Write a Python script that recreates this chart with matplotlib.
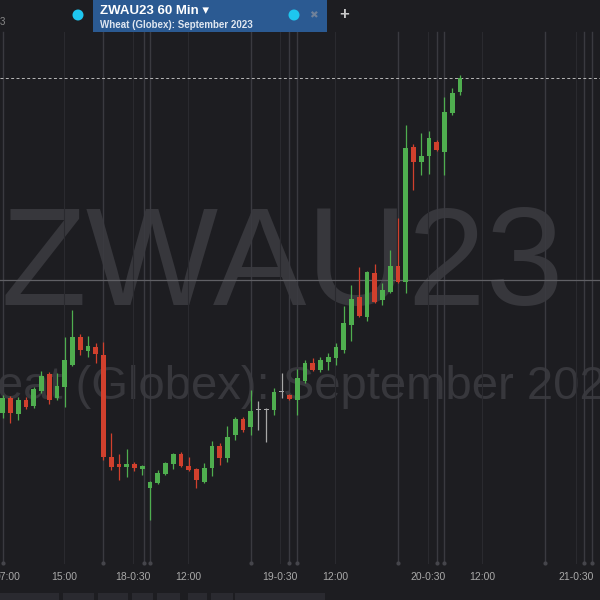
import matplotlib
matplotlib.use("Agg")
import matplotlib.pyplot as plt
import matplotlib.transforms as mtransforms
from matplotlib.patches import Rectangle, Circle

# hourly OHLC (cents/bushel), ZWAU23 60 Min
opens = [672.5, 676.25, 672.25, 675.75, 674.25, 678.0, 682.25, 676.25, 679.0, 684.5,
         691.5, 688.0, 689.0, 687.0, 661.5, 659.75, 659.0, 659.75, 658.5, 653.75,
         655.0, 657.25, 659.75, 662.25, 659.25, 658.5, 655.25, 658.75, 664.25, 661.25,
         667.0, 671.0, 669.0, 673.25, 673.25, 673.25, 677.75, 677.0, 675.75, 680.5,
         685.0, 683.25, 685.25, 686.25, 688.25, 694.5, 701.5, 696.5, 707.5, 700.75,
         702.75, 709.25, 705.25, 739.0, 735.25, 736.75, 740.25, 737.75, 747.5, 752.75]
highs = [677.0, 676.75, 676.5, 676.5, 679.0, 683.0, 682.75, 682.5, 691.5, 698.25,
         692.25, 691.75, 690.0, 690.25, 667.5, 662.25, 663.5, 660.25, 659.5, 655.5,
         658.25, 660.25, 662.5, 662.75, 661.5, 658.75, 660.0, 665.5, 665.0, 669.25,
         671.5, 671.5, 678.25, 675.5, 673.75, 678.75, 682.5, 677.25, 683.5, 685.75,
         686.25, 686.5, 687.5, 690.0, 699.25, 704.5, 709.0, 708.0, 709.75, 705.0,
         713.25, 721.25, 744.5, 739.75, 742.5, 743.0, 740.75, 751.5, 753.75, 757.0]
lows = [671.25, 670.0, 670.75, 673.5, 673.75, 677.5, 674.75, 675.75, 674.0, 684.25,
        687.0, 686.5, 685.0, 660.75, 658.25, 655.75, 656.5, 658.0, 657.0, 645.75,
        654.75, 657.0, 658.5, 659.0, 658.0, 653.75, 655.0, 656.75, 659.5, 660.25,
        665.75, 667.75, 667.0, 668.25, 665.25, 672.0, 676.25, 675.75, 672.0, 680.0,
        683.0, 682.75, 683.25, 684.5, 687.5, 690.5, 696.5, 695.5, 700.0, 699.5,
        702.5, 705.0, 702.5, 728.25, 732.0, 732.25, 738.0, 732.0, 747.0, 752.0]
closes = [676.25, 672.5, 675.75, 674.0, 678.5, 681.75, 675.75, 679.25, 685.75, 691.5,
          688.25, 689.25, 687.25, 661.5, 659.0, 659.0, 659.75, 658.75, 659.25, 655.25,
          657.5, 660.0, 662.25, 659.25, 658.25, 655.75, 658.75, 664.25, 661.25, 666.5,
          671.0, 668.25, 673.0, 673.25, 673.25, 677.75, 677.75, 676.0, 681.25, 685.0,
          683.25, 685.75, 686.5, 689.0, 695.0, 701.0, 696.75, 707.75, 700.25, 703.25,
          709.25, 705.25, 738.75, 735.25, 736.75, 741.25, 738.25, 747.75, 752.5, 756.25]

session_lines = [0, 13, 18.2, 19, 32, 37, 38, 51, 56, 57, 70, 75, 76]
label_bars = [0.6, 7.9, 16.8, 23.9, 35.8, 42.9, 54.9, 61.9, 74]
time_labels = ["07:00", "15:00", "18-0:30", "12:00", "19-0:30", "12:00",
               "20-0:30", "12:00", "21-0:30"]
crosshair_price = 705.75
last_price = closes[-1]

symbol = "ZWAU23"
title = "ZWAU23 60 Min"
description = "Wheat (Globex): September 2023"

BG = "#1d1d21"
UP = "#4fae4f"
DOWN = "#d1402d"
FLAT = "#a8a8a8"
GRID = "#3a3a40"
FONT = ["Liberation Sans", "DejaVu Sans"]

fig = plt.figure(figsize=(6, 6), dpi=100, facecolor=BG)
ax = fig.add_axes([0, 0, 1, 1], facecolor=BG)
ax.set_xlim(-0.35, 77.07)
ax.set_ylim(625.75, 775.75)
ax.axis("off")

xb = mtransforms.blended_transform_factory(ax.transData, ax.transAxes)
grid_top = 1 - 32 / 600
grid_bot = 1 - 563 / 600

# watermark
ax.text(0.47, 1 - 305 / 600, symbol, transform=ax.transAxes, ha="center",
        va="baseline", fontsize=101, color="#37373c", family=FONT, zorder=0)
ax.text(0.465, 1 - 399 / 600, description, transform=ax.transAxes, ha="center",
        va="baseline", fontsize=34, color="#37373c", family=FONT, zorder=0)

# faint grid at label positions, session lines
for x in label_bars[1:]:
    ax.plot([x, x], [grid_bot, grid_top], transform=xb, color="#2a2a2f",
            lw=0.8, zorder=1)
for x in session_lines:
    ax.plot([x, x], [grid_bot, grid_top], transform=xb, color=GRID,
            lw=1.0, zorder=1)
ax.scatter(session_lines, [grid_bot] * len(session_lines), transform=xb,
           s=9, color="#45454b", zorder=1, linewidths=0)

# crosshair and last price line
ax.axhline(crosshair_price, color="#606065", lw=0.9, zorder=1)
ax.axhline(last_price, color="#b8b8b8", lw=0.7, ls=(0, (3, 2.5)), zorder=1)

# candles
idx = list(range(len(opens)))
colors = []
for o, c in zip(opens, closes):
    colors.append(UP if c > o else DOWN if c < o else FLAT)
ax.vlines(idx, lows, highs, colors=colors, lw=0.9, zorder=3)
bottoms = [min(o, c) for o, c in zip(opens, closes)]
heights = [max(abs(c - o), 0.35) for o, c in zip(opens, closes)]
ax.bar(idx, heights, bottom=bottoms, width=0.62, color=colors, zorder=4,
       linewidth=0)

# time axis labels
for x, lab in zip(label_bars, time_labels):
    ax.text(x, 1 - 577 / 600, lab, transform=xb, ha="center", va="center",
            fontsize=7.5, color="#a9a9a9", family=FONT)

# top bar with tab
fig.patches.append(Rectangle((93 / 600, 1 - 32 / 600), 234 / 600, 32 / 600,
                             transform=fig.transFigure, facecolor="#2b5a92",
                             edgecolor="none", zorder=5))
for cx in (78, 294):
    fig.patches.append(Circle((cx / 600, 1 - 15 / 600), 5.5 / 600,
                              transform=fig.transFigure, facecolor="#1ec6ef",
                              edgecolor="none", zorder=6))
fig.text(100 / 600, 1 - 11 / 600, title + " \u25be", ha="left", va="center",
         fontsize=9.5, fontweight="bold", color="white", family=FONT, zorder=7)
fig.text(100 / 600, 1 - 24.5 / 600, description, ha="left", va="center",
         fontsize=7, fontweight="bold", color="#dfe6f0", family=FONT, zorder=7)
fig.text(313 / 600, 1 - 15 / 600, "\u2716", ha="center", va="center",
         fontsize=7.5, color="#6f819a", family=["DejaVu Sans"], zorder=7)
fig.text(344 / 600, 1 - 15 / 600, "+", ha="center", va="center",
         fontsize=12, fontweight="bold", color="#c8c8c8", family=FONT, zorder=7)
fig.text(0, 1 - 22 / 600, "3", ha="left", va="center", fontsize=7,
         color="#8a8a8a", family=FONT, zorder=7)

# toolbar stubs at the bottom edge
for x0, w in [(0, 59), (63, 31), (98, 30), (132, 21), (157, 23), (188, 19),
              (211, 22), (235, 90)]:
    fig.patches.append(Rectangle((x0 / 600, 0), w / 600, 7 / 600,
                                 transform=fig.transFigure, facecolor="#2a2a30",
                                 edgecolor="none", zorder=5))

fig.savefig("out.png", dpi=100, facecolor=BG)
